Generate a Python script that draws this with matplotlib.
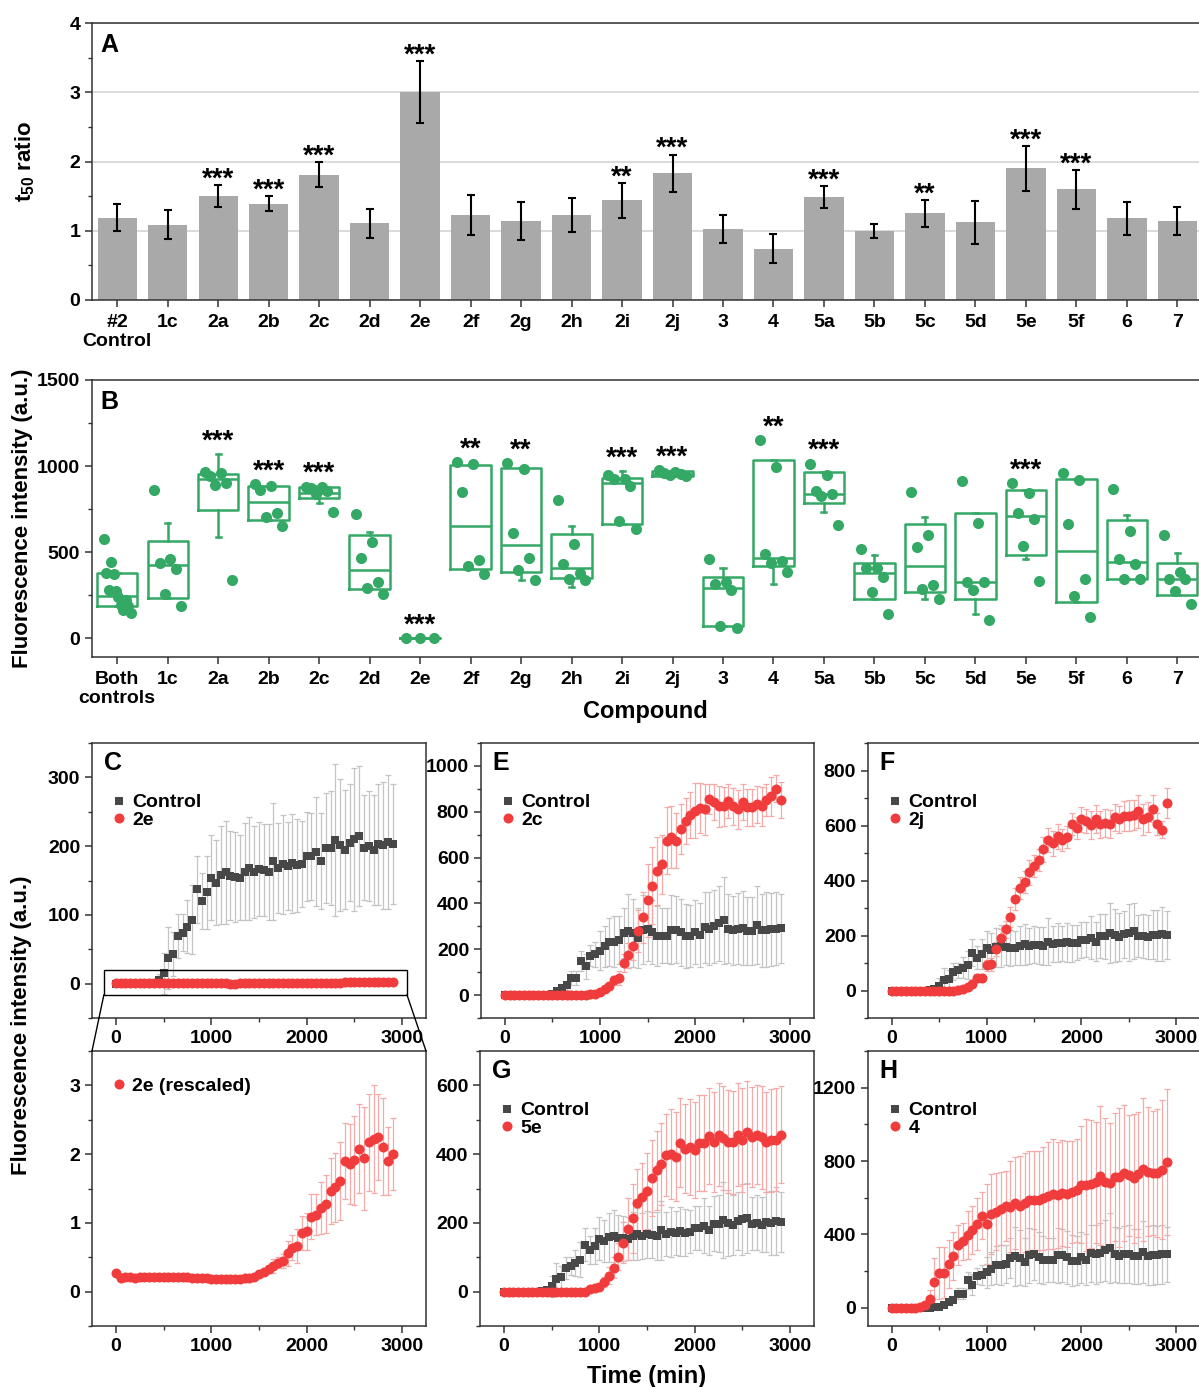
import numpy as np
import matplotlib.pyplot as plt
from matplotlib.patches import Rectangle, ConnectionPatch
from matplotlib.ticker import MultipleLocator

plt.rcParams['font.family'] = ['Liberation Sans', 'DejaVu Sans']
plt.rcParams['font.weight'] = 'bold'
plt.rcParams['axes.labelweight'] = 'bold'
plt.rcParams['mathtext.fontset'] = 'custom'
plt.rcParams['mathtext.bf'] = 'Liberation Sans:bold'
plt.rcParams['mathtext.rm'] = 'Liberation Sans:bold'
plt.rcParams['mathtext.default'] = 'bf'

# ---- panel A: t50 ratio ----
compounds = ['#2\nControl', '1c', '2a', '2b', '2c', '2d', '2e', '2f', '2g', '2h', '2i',
             '2j', '3', '4', '5a', '5b', '5c', '5d', '5e', '5f', '6', '7']
t50_ratio = [1.19, 1.09, 1.50, 1.39, 1.81, 1.11, 3.00, 1.23, 1.14, 1.23, 1.44,
             1.83, 1.03, 0.74, 1.49, 1.00, 1.25, 1.12, 1.90, 1.60, 1.18, 1.14]
t50_err = [0.19, 0.21, 0.155, 0.11, 0.18, 0.21, 0.45, 0.29, 0.28, 0.25, 0.25,
           0.27, 0.20, 0.21, 0.16, 0.10, 0.19, 0.31, 0.32, 0.28, 0.24, 0.20]
t50_stars = ['', '', '***', '***', '***', '', '***', '', '', '', '**',
             '***', '', '', '***', '', '**', '', '***', '***', '', '']

# ---- panel B: fluorescence end point ----
fluo_labels = ['Both\ncontrols'] + compounds[1:]
fluo_points = [
    [574, 442, 378, 374, 277, 273, 240, 223, 190, 184, 165, 145],
    [862, 461, 436, 403, 258, 186],
    [963, 959, 940, 903, 888, 339],
    [897, 882, 858, 727, 703, 651],
    [880, 878, 870, 855, 840, 731],
    [723, 556, 465, 326, 293, 254],
    [0, 0, 0],
    [1021, 1010, 849, 451, 417, 374],
    [1015, 985, 612, 465, 397, 339],
    [804, 547, 432, 380, 345, 335],
    [946, 926, 926, 882, 680, 632],
    [975, 968, 960, 955, 950, 940],
    [461, 324, 312, 277, 72, 58],
    [1153, 994, 488, 446, 436, 384],
    [1014, 946, 855, 835, 828, 659],
    [519, 409, 409, 355, 267, 141],
    [849, 597, 529, 306, 287, 229],
    [911, 669, 326, 326, 277, 107],
    [901, 843, 727, 694, 535, 331],
    [959, 917, 665, 341, 242, 122],
    [868, 620, 461, 428, 345, 345],
    [601, 384, 345, 345, 273, 200],
]
box_q1 = [186, 233, 742, 684, 814, 287, 0, 403, 384, 349, 665, 940, 68, 417, 785, 227, 267, 229, 484, 209, 345, 252]
box_med = [242, 426, 922, 789, 845, 393, 0, 651, 543, 405, 903, 955, 293, 467, 838, 380, 417, 324, 709, 504, 442, 345]
box_q3 = [378, 562, 955, 882, 878, 599, 0, 1008, 990, 607, 930, 971, 355, 1033, 963, 436, 661, 729, 862, 926, 684, 436]
whisk_lo = [186, 233, 587, 684, 785, 287, 0, 403, 339, 297, 665, 940, 68, 316, 733, 227, 229, 138, 461, 209, 345, 252]
whisk_hi = [378, 671, 1068, 882, 885, 616, 0, 1008, 990, 653, 969, 971, 405, 1033, 963, 481, 703, 729, 862, 926, 713, 494]
fluo_stars = ['', '', '***', '***', '***', '', '***', '**', '**', '', '***',
              '***', '', '**', '***', '', '', '', '***', '', '', '']

# ---- panels C-H: kinetics, one reading every 50 min ----
time_min = list(range(0, 2950, 50))

control_a = [0, 0, 0, 0, 0, 0, 0, 0, 1,
             6, 15, 37, 43, 69, 74, 83, 93, 137, 120, 133, 154,
             147, 158, 162, 157, 155, 154, 163, 168, 162, 167, 165, 162,
             178, 168, 174, 171, 175, 172, 174, 185, 185, 192, 178, 198,
             197, 209, 201, 195, 205, 210, 215, 198, 200, 195, 203, 201, 206, 203]
control_a_sd = [1, 1, 1, 1, 1, 1, 1, 2, 3,
                8, 30, 45, 32, 32, 27, 38, 50, 49, 41, 53, 62,
                62, 71, 75, 65, 65, 62, 70, 75, 67, 68, 67, 70,
                85, 65, 72, 64, 72, 68, 63, 65, 63, 79, 70, 80,
                83, 110, 96, 87, 85, 104, 102, 76, 80, 80, 88, 93, 98, 87]

control_b = [0, 0, 0, 0, 0, 0, 0, 0, 0, 2, 5,
             17, 32, 43, 75, 75, 149, 126, 172, 178, 193, 213, 233,
             233, 239, 270, 280, 271, 248, 286, 290, 274, 259, 259, 259,
             286, 286, 274, 257, 257, 274, 261, 297, 290, 300, 313, 326,
             290, 283, 290, 293, 280, 280, 304, 283, 286, 287, 290, 291]
control_b_sd = [1, 1, 1, 1, 1, 1, 1, 1, 1, 3, 6,
                12, 15, 20, 30, 30, 45, 55, 45, 55, 85, 90, 105,
                110, 105, 110, 160, 150, 130, 150, 140, 140, 130, 120, 120,
                150, 145, 145, 140, 135, 140, 140, 155, 160, 160, 165, 190,
                150, 150, 155, 160, 150, 150, 170, 160, 165, 160, 160, 150]

cmp_2e = [0.27, 0.20, 0.21, 0.21, 0.20, 0.21, 0.22, 0.21, 0.21,
          0.22, 0.21, 0.22, 0.22, 0.22, 0.22, 0.21, 0.20, 0.20, 0.20, 0.20, 0.19,
          0.19, 0.19, 0.19, 0.18, 0.18, 0.19, 0.20, 0.20, 0.22, 0.25, 0.28, 0.33,
          0.37, 0.42, 0.45, 0.56, 0.64, 0.66, 0.85, 0.88, 1.09, 1.12, 1.22, 1.28,
          1.47, 1.52, 1.61, 1.90, 1.86, 1.91, 2.08, 1.94, 2.17, 2.22, 2.25, 2.11, 1.90, 2.00]
cmp_2e_sd = [0.02] * 29 + [0.02, 0.03, 0.04, 0.06, 0.10, 0.08,
                           0.10, 0.18, 0.18, 0.25, 0.25, 0.27,
                           0.33, 0.30, 0.38, 0.42, 0.48, 0.50,
                           0.57, 0.55, 0.58, 0.65, 0.65, 0.75,
                           0.70, 0.78, 0.62, 0.70, 0.50, 0.52]

cmp_2c = [0] * 17 + [1, 3, 6,
                     14, 25, 39, 64, 74, 141, 174, 216, 280, 339, 414, 478,
                     542, 570, 674, 691, 674, 726, 760, 786, 804, 817, 810, 857,
                     842, 823, 823, 846, 823, 810, 842, 819, 819, 833, 823, 851,
                     868, 901, 852]
cmp_2c_sd = [1] * 17 + [2, 3, 4,
                        8, 12, 15, 20, 30, 40, 55, 65, 90, 110, 160, 170,
                        150, 130, 145, 135, 120, 110, 100, 100, 120, 110, 110, 65,
                        80, 90, 85, 75, 80, 85, 80, 80, 80, 80, 85, 70,
                        85, 60, 80]

cmp_2j = [0] * 14 + [2, 5, 12, 22, 45, 45, 91, 95, 150, 192, 222, 267,
                     331, 371, 394, 430, 451, 473, 513, 547, 535, 561, 549, 559,
                     604, 592, 622, 616, 602, 624, 604, 610, 605, 630, 622, 634,
                     636, 638, 652, 622, 632, 661, 607, 585, 681]
cmp_2j_sd = [1] * 14 + [3, 5, 8, 10, 15, 15, 20, 25, 25, 30, 30, 35,
                        40, 40, 40, 45, 40, 40, 45, 45, 45, 45, 40, 40,
                        40, 40, 45, 45, 50, 50, 50, 50, 50, 50, 50, 55,
                        55, 55, 60, 55, 55, 50, 40, 30, 55]

cmp_5e = [0] * 18 + [7, 10, 14, 28, 46, 70, 102, 142, 181, 213, 257, 274,
                     293, 331, 353, 372, 397, 400, 393, 433, 416, 421, 413, 433,
                     433, 452, 436, 457, 447, 436, 434, 457, 441, 463, 450, 457,
                     449, 436, 440, 442, 457]
cmp_5e_sd = [1] * 18 + [5, 8, 10, 15, 25, 30, 40, 60, 90, 100, 100, 100,
                        110, 110, 115, 120, 120, 130, 130, 130, 130, 140, 140, 140,
                        140, 140, 145, 150, 150, 150, 150, 150, 150, 150, 145, 145,
                        150, 145, 150, 150, 140]

cmp_4 = [0] * 6 + [4, 13, 45, 142, 189, 191, 238, 282, 342, 362, 396, 422,
                   456, 502, 456, 511, 524, 540, 553, 551, 571, 555, 573, 585,
                   587, 587, 596, 611, 622, 616, 625, 620, 631, 640, 671, 667,
                   675, 685, 720, 687, 678, 714, 711, 735, 722, 705, 727, 755,
                   742, 735, 735, 753, 795]
cmp_4_sd = [1] * 6 + [5, 20, 50, 130, 140, 140, 130, 130, 110, 100, 130, 130,
                      140, 130, 220, 220, 210, 200, 190, 250, 250, 270, 270, 270,
                      270, 270, 280, 290, 300, 290, 290, 290, 280, 280, 320, 360,
                      350, 330, 380, 350, 330, 350, 380, 370, 330, 350, 340, 390,
                      350, 340, 350, 380, 400]

GRAY_BAR = '#a9a9a9'
GREEN = '#34a865'
RED = '#f03c3c'
DARK = '#474747'
SPINE = '#333333'

W, H = 1199, 1387
fig = plt.figure(figsize=(W / 100, H / 100), dpi=100)


def place(l, t, r, b):
    return fig.add_axes([l / W, 1 - b / H, (r - l) / W, (b - t) / H])


def style(ax, fs=14):
    for s in ax.spines.values():
        s.set_color(SPINE)
        s.set_linewidth(1.1)
    ax.tick_params(which='major', length=5, width=1.1, labelsize=fs, color=SPINE)
    ax.tick_params(which='minor', length=3, width=1.0, color=SPINE)


# ---------------- A ----------------
axA = place(92, 23, 1199, 300)
xs = np.arange(len(compounds))
axA.bar(xs, t50_ratio, width=0.78, color=GRAY_BAR, zorder=2)
axA.errorbar(xs, t50_ratio, yerr=t50_err, fmt='none', ecolor='black',
             elinewidth=1.5, capsize=3, capthick=1.5, zorder=3)
for x, v, e, s in zip(xs, t50_ratio, t50_err, t50_stars):
    if s:
        axA.annotate(s, (x, v + e), xytext=(0, -1), textcoords='offset points',
                     ha='center', va='baseline', fontsize=20)
axA.set_xlim(-0.5, 21.43)
axA.set_ylim(0, 4)
axA.set_yticks([0, 1, 2, 3, 4])
axA.yaxis.set_minor_locator(MultipleLocator(0.5))
axA.set_xticks(xs)
axA.set_xticklabels(compounds)
axA.yaxis.grid(True, color='#d4d4d4', lw=1.2)
axA.set_axisbelow(True)
axA.spines['right'].set_visible(False)
style(axA)
axA.tick_params(axis='x', pad=5)
axA.set_ylabel('t$_{50}$ ratio', fontsize=16)
axA.yaxis.set_label_coords(-0.05, 0.5)
axA.text(0.008, 0.965, 'A', transform=axA.transAxes, fontsize=18, va='top')

# ---------------- B ----------------
axB = place(92, 380, 1199, 657)
stats = []
for i in range(len(fluo_labels)):
    stats.append(dict(q1=box_q1[i], med=box_med[i], q3=box_q3[i],
                      whislo=whisk_lo[i], whishi=whisk_hi[i], fliers=[]))
line_kw = dict(color=GREEN, lw=1.8)
axB.bxp(stats, positions=xs, widths=0.8, capwidths=0.1, showfliers=False,
        boxprops=line_kw, whiskerprops=line_kw, capprops=line_kw,
        medianprops=line_kw, manage_ticks=False)
spread = [0, 3, 1, 4, 2, 5, 6, 9, 7, 10, 8, 11]
for x, pts in zip(xs, fluo_points):
    offs = np.linspace(-0.27, 0.27, len(pts))
    if len(pts) > 3:
        offs = offs[[o for o in spread if o < len(pts)]]
    axB.scatter(x + offs, pts, s=64, color=GREEN, zorder=3, linewidths=0)
for x, pts, hi, s in zip(xs, fluo_points, whisk_hi, fluo_stars):
    if s:
        axB.annotate(s, (x, max(max(pts), hi)), xytext=(0, 4),
                     textcoords='offset points', ha='center', va='baseline',
                     fontsize=20)
axB.set_xlim(-0.5, 21.43)
axB.set_ylim(-110, 1500)
axB.set_yticks([0, 500, 1000, 1500])
axB.yaxis.set_minor_locator(MultipleLocator(250))
axB.set_xticks(xs)
axB.set_xticklabels(fluo_labels)
axB.spines['right'].set_visible(False)
style(axB)
axB.tick_params(axis='x', pad=5)
axB.set_ylabel('Fluorescence intensity (a.u.)', fontsize=16)
axB.yaxis.set_label_coords(-0.053, 0.5)
axB.set_xlabel('Compound', fontsize=17)
axB.xaxis.set_label_coords(0.5, -0.155)
axB.text(0.008, 0.965, 'B', transform=axB.transAxes, fontsize=18, va='top')


# ---------------- kinetics ----------------
def kinetics(ax, series, letter, ylim, major, minor, leg_y=0.815):
    for mean, sd, label, kind in series:
        ecol = '#c4c4c4' if kind == 'ctrl' else '#f6a9a9'
        ax.errorbar(time_min, mean, yerr=sd, fmt='none', ecolor=ecol,
                    elinewidth=0.9, capsize=2.2, capthick=0.9, zorder=1)
    handles = []
    for mean, sd, label, kind in series:
        if kind == 'ctrl':
            h, = ax.plot(time_min, mean, 's', ms=6.3, color=DARK, mew=0,
                         zorder=3, label=label)
        else:
            h, = ax.plot(time_min, mean, 'o', ms=7.2, color=RED, mew=0,
                         zorder=4, label=label)
        handles.append(h)
    ax.set_xlim(-250, 3250)
    ax.set_ylim(*ylim)
    ax.set_xticks([0, 1000, 2000, 3000])
    ax.xaxis.set_minor_locator(MultipleLocator(500))
    ax.yaxis.set_major_locator(MultipleLocator(major))
    ax.yaxis.set_minor_locator(MultipleLocator(minor))
    style(ax)
    ax.legend(handles=handles, loc='upper left', bbox_to_anchor=(0.06, leg_y),
              frameon=False, fontsize=14, handlelength=0.7, handletextpad=0.35,
              labelspacing=0.0, borderpad=0, borderaxespad=0)
    if letter:
        ax.text(0.035, 0.97, letter, transform=ax.transAxes, fontsize=18, va='top')


axC = place(92, 743, 426, 1018)
kinetics(axC, [(control_a, control_a_sd, 'Control', 'ctrl'),
               (cmp_2e, cmp_2e_sd, '2e', 'cmp')], 'C', (-50, 350), 100, 50)
axC.set_ylim(-50, 350)
axC.set_yticks([0, 100, 200, 300])
axC.add_patch(Rectangle((-125, -16), 3175, 36, fill=False, ec='black', lw=1.0, zorder=5))

axR = place(92, 1051, 426, 1326)
kinetics(axR, [(cmp_2e, cmp_2e_sd, '2e (rescaled)', 'cmp')], '', (-0.5, 3.5), 1, 0.5,
         leg_y=0.905)
axR.set_yticks([0, 1, 2, 3])
axR.set_ylim(-0.5, 3.5)

for xa, xb in [(-125, 0), (3050, 1)]:
    con = ConnectionPatch(xyA=(xa, -16), coordsA=axC.transData,
                          xyB=(xb, 1), coordsB=axR.transAxes,
                          color='black', lw=1.0)
    fig.add_artist(con)

axE = place(481, 743, 814, 1018)
kinetics(axE, [(control_b, control_b_sd, 'Control', 'ctrl'),
               (cmp_2c, cmp_2c_sd, '2c', 'cmp')], 'E', (-100, 1100), 200, 100)
axE.set_yticks([0, 200, 400, 600, 800, 1000])
axE.set_ylim(-100, 1100)

axF = place(868, 743, 1200, 1018)
kinetics(axF, [(control_a, control_a_sd, 'Control', 'ctrl'),
               (cmp_2j, cmp_2j_sd, '2j', 'cmp')], 'F', (-100, 900), 200, 100)
axF.set_yticks([0, 200, 400, 600, 800])
axF.set_ylim(-100, 900)

axG = place(480, 1051, 814, 1326)
kinetics(axG, [(control_a, control_a_sd, 'Control', 'ctrl'),
               (cmp_5e, cmp_5e_sd, '5e', 'cmp')], 'G', (-100, 700), 200, 100)
axG.set_yticks([0, 200, 400, 600])
axG.set_ylim(-100, 700)
axG.set_xlabel('Time (min)', fontsize=17)
axG.xaxis.set_label_coords(0.5, -0.14)

axH = place(868, 1051, 1200, 1326)
kinetics(axH, [(control_b, control_b_sd, 'Control', 'ctrl'),
               (cmp_4, cmp_4_sd, '4', 'cmp')], 'H', (-100, 1400), 400, 200)
axH.set_yticks([0, 400, 800, 1200])
axH.set_ylim(-100, 1400)

fig.text(22 / W, 1 - 1025 / H, 'Fluorescence intensity (a.u.)', rotation=90,
         ha='center', va='center', fontsize=16)

fig.savefig('out.png', dpi=100)
